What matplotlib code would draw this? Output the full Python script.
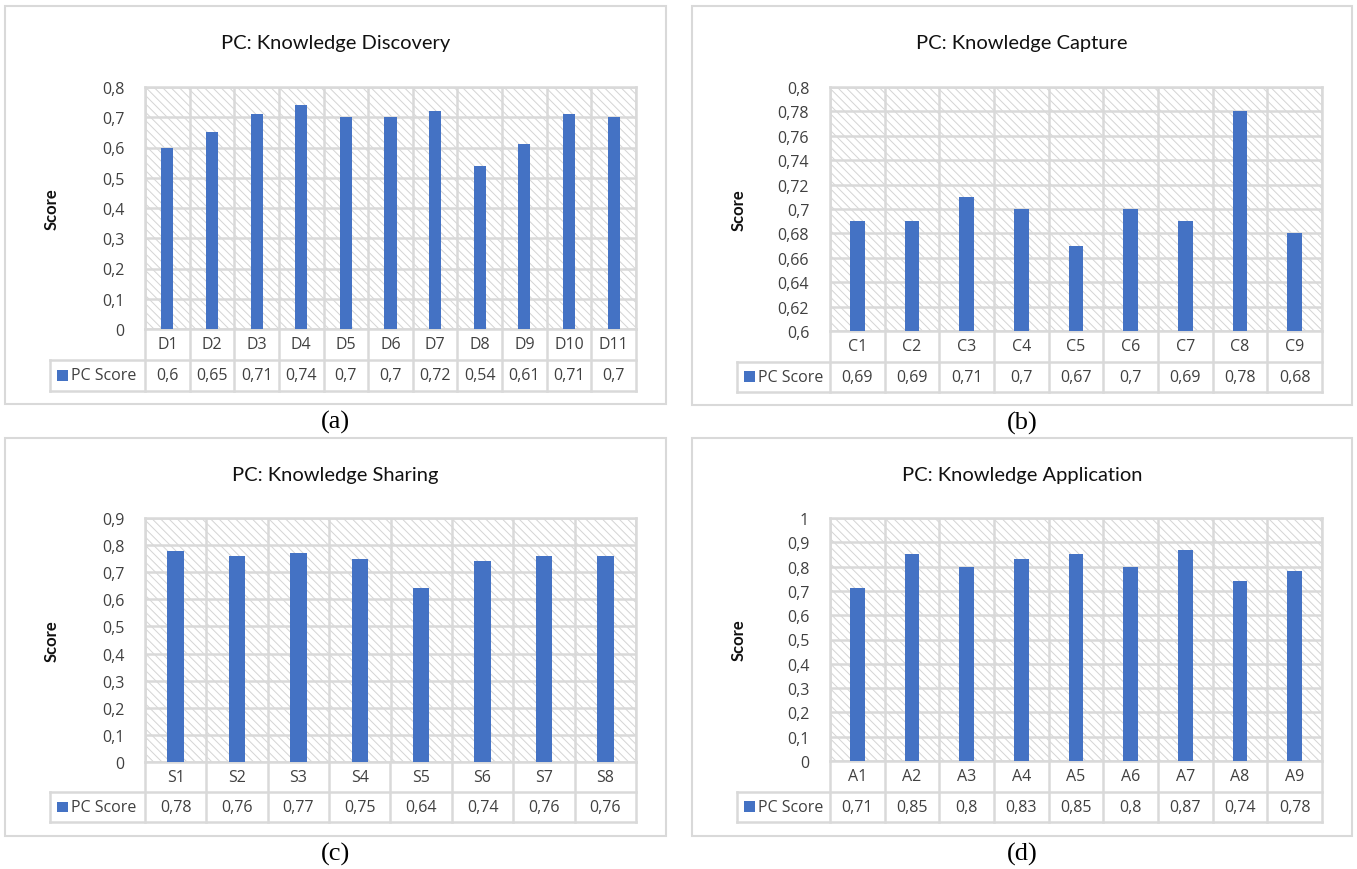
import matplotlib
matplotlib.use("Agg")
import matplotlib.pyplot as plt
from matplotlib.patches import Rectangle
import numpy as np

W, H = 1357, 870

# data
disc_cats = ["D1", "D2", "D3", "D4", "D5", "D6", "D7", "D8", "D9", "D10", "D11"]
disc_vals = [0.6, 0.65, 0.71, 0.74, 0.7, 0.7, 0.72, 0.54, 0.61, 0.71, 0.7]

capt_cats = ["C1", "C2", "C3", "C4", "C5", "C6", "C7", "C8", "C9"]
capt_vals = [0.69, 0.69, 0.71, 0.7, 0.67, 0.7, 0.69, 0.78, 0.68]

shar_cats = ["S1", "S2", "S3", "S4", "S5", "S6", "S7", "S8"]
shar_vals = [0.78, 0.76, 0.77, 0.75, 0.64, 0.74, 0.76, 0.76]

appl_cats = ["A1", "A2", "A3", "A4", "A5", "A6", "A7", "A8", "A9"]
appl_vals = [0.71, 0.85, 0.8, 0.83, 0.85, 0.8, 0.87, 0.74, 0.78]

BLUE = "#4472C4"
GRID = "#d9d9d9"
TXT = "#404040"

plt.rcParams["hatch.linewidth"] = 0.7
plt.rcParams["font.family"] = ["Open Sans", "DejaVu Sans"]


def fmt(v):
    return f"{v:g}".replace(".", ",")


def px_axes(fig, x0, y0, x1, y1):
    return fig.add_axes([x0 / W, 1 - y1 / H, (x1 - x0) / W, (y1 - y0) / H])


def panel(fig, box, plot, tab_bottom, leg_left, title, cats, vals, ylim, step, letter):
    bx0, by0, bx1, by1 = box
    px0, py0, px1, py1 = plot
    n = len(cats)

    # panel frame
    fig.add_artist(Rectangle((bx0 / W, 1 - by1 / H), (bx1 - bx0) / W, (by1 - by0) / H,
                             transform=fig.transFigure, fill=False, edgecolor=GRID, lw=1.5))

    ax = px_axes(fig, px0, py0, px1, py1)
    ax.add_patch(Rectangle((0, 0), 1, 1, transform=ax.transAxes, facecolor="white",
                           hatch="\\" * 4, edgecolor="#d4d4d4", lw=0, zorder=0))
    ax.set_xlim(-0.5, n - 0.5)
    ax.set_ylim(*ylim)
    ticks = np.round(np.arange(ylim[0], ylim[1] + step / 2, step), 2)
    ax.set_yticks(ticks)
    ax.set_yticklabels([fmt(t) for t in ticks])
    ax.set_xticks([])
    ax.yaxis.grid(True, color=GRID, lw=1.8, zorder=1)
    for k in range(n + 1):
        ax.axvline(k - 0.5, color=GRID, lw=1.8, zorder=1)
    for s in ax.spines.values():
        s.set_color(GRID)
        s.set_linewidth(1.8)
    ax.tick_params(axis="y", length=0, pad=15, labelsize=11.5, labelcolor=TXT)
    ax.set_axisbelow(True)
    ax.bar(range(n), vals, width=0.27, color=BLUE, zorder=3)

    # data table
    cw = (px1 - px0) / n
    w = (px0 - leg_left) / cw
    tx = px_axes(fig, leg_left, py1, px1, tab_bottom)
    tx.set_xlim(-0.5 - w, n - 0.5)
    tx.set_ylim(0, 2)
    tx.axis("off")
    kw = dict(color=GRID, lw=1.8, clip_on=False)
    tx.plot([-0.5 - w, n - 0.5], [1, 1], **kw)
    tx.plot([-0.5 - w, n - 0.5], [0, 0], **kw)
    tx.plot([-0.5 - w, -0.5 - w], [0, 1], **kw)
    for k in range(n + 1):
        tx.plot([k - 0.5, k - 0.5], [0, 2], **kw)
    for i, (c, v) in enumerate(zip(cats, vals)):
        tx.text(i, 1.5, c, ha="center", va="center", fontsize=11.5, color=TXT)
        tx.text(i, 0.5, fmt(v), ha="center", va="center", fontsize=11.5, color=TXT)
    tx.add_patch(Rectangle((-0.5 - w + 7 / cw, 0.5 - 0.18), 11 / cw, 0.36,
                           facecolor=BLUE, lw=0, clip_on=False))
    tx.text(-0.5 - w + 21 / cw, 0.5, "PC Score", ha="left", va="center",
            fontsize=11.5, color=TXT)

    cx = (bx0 + bx1) / 2
    fig.text(cx / W, 1 - (by0 + 37) / H, title, ha="center", va="center",
             fontsize=14.5, color="#111111", family="Lato")
    fig.text((leg_left + 2) / W, 1 - ((py0 + py1) / 2) / H, "Score", rotation=90,
             ha="center", va="center", fontsize=12, fontweight="bold",
             color="#111111", family="Lato")
    fig.text(cx / W, 1 - (by1 + 17) / H, letter, ha="center", va="center",
             fontsize=19, family="Liberation Serif", color="black")


fig = plt.figure(figsize=(W / 100, H / 100), dpi=100)

panel(fig, (5, 7, 666, 405), (145, 88, 636, 330), 392, 50,
      "PC: Knowledge Discovery", disc_cats, disc_vals, (0, 0.8), 0.1, "(a)")
panel(fig, (692, 7, 1352, 406), (830, 88, 1322, 332), 393, 737,
      "PC: Knowledge Capture", capt_cats, capt_vals, (0.6, 0.8), 0.02, "(b)")
panel(fig, (5, 439, 666, 837), (145, 519, 636, 763), 823, 50,
      "PC: Knowledge Sharing", shar_cats, shar_vals, (0, 0.9), 0.1, "(c)")
panel(fig, (692, 439, 1352, 837), (830, 519, 1322, 762), 823, 737,
      "PC: Knowledge Application", appl_cats, appl_vals, (0, 1.0), 0.1, "(d)")

fig.savefig("out.png", dpi=100)
